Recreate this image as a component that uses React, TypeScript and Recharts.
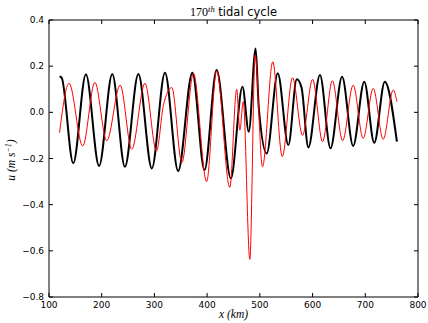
import React from "react";
import { LineChart, Line, XAxis, YAxis, ReferenceArea } from "recharts";

// black curve (thick)
const blackX = [120, 124, 146, 170, 195, 220, 244, 269.5, 295, 320, 345, 372, 395, 418, 445, 467, 479, 492, 498, 513, 534, 554, 570, 579, 592, 614, 634, 656, 677, 698, 717, 737, 760];
const blackU = [0.155, 0.15, -0.221, 0.165, -0.233, 0.166, -0.236, 0.166, -0.243, 0.172, -0.254, 0.172, -0.25, 0.183, -0.286, 0.111, -0.084, 0.277, 0.02, -0.178, 0.169, -0.142, 0.143, 0.108, -0.152, 0.162, -0.156, 0.154, -0.146, 0.133, -0.132, 0.133, -0.127];

// red curve (thin)
const redX = [120, 138, 164, 187, 209.5, 235, 257, 282, 304, 317, 333, 352, 374, 399, 418, 443, 456, 462, 468.5, 481, 491, 505, 524.5, 542.5, 562, 581, 600, 619, 637.5, 657, 677, 696, 715, 734, 753, 760];
const redU = [-0.088, 0.126, -0.146, 0.13, -0.123, 0.118, -0.16, 0.126, -0.168, 0.03, 0.107, -0.218, 0.169, -0.3, 0.18, -0.325, 0.1, -0.077, 0.046, -0.637, 0.248, -0.236, 0.219, -0.192, 0.15, -0.1, 0.143, -0.127, 0.137, -0.123, 0.118, -0.113, 0.104, -0.117, 0.097, 0.046];

const xTicks = [100, 200, 300, 400, 500, 600, 700, 800];
const yTicks = [-0.8, -0.6, -0.4, -0.2, 0.0, 0.2, 0.4];

const blackData = blackX.map((x, i) => ({ x, u: blackU[i] }));
const redData = redX.map((x, i) => ({ x, u: redU[i] }));

const W = 428;
const H = 323;
const LEFT = 49;
const RIGHT = 418;
const TOP = 20;
const BOTTOM = 297;
const TICK = 4;

const fmtY = (v: number) => v.toFixed(1).replace("-", "\u2212");

function XTick(props: any) {
  const { x, payload } = props;
  return (
    <g>
      <line x1={x} x2={x} y1={BOTTOM} y2={BOTTOM - TICK} stroke="#000" />
      <line x1={x} x2={x} y1={TOP} y2={TOP + TICK} stroke="#000" />
      <text x={x} y={308} textAnchor="middle" fontSize={9} fontFamily="DejaVu Sans" fill="#000">
        {payload.value}
      </text>
    </g>
  );
}

function YTick(props: any) {
  const { y, payload } = props;
  return (
    <g>
      <line x1={LEFT} x2={LEFT + TICK} y1={y} y2={y} stroke="#000" />
      <line x1={RIGHT} x2={RIGHT - TICK} y1={y} y2={y} stroke="#000" />
      <text x={44} y={y} dy="0.35em" textAnchor="end" fontSize={9} fontFamily="DejaVu Sans" fill="#000">
        {fmtY(payload.value)}
      </text>
    </g>
  );
}

export default function App() {
  return (
    <div style={{ position: "absolute", left: 0, top: 0, width: W, height: H, background: "#fff" }}>
      <LineChart width={W} height={H} margin={{ top: TOP, right: W - RIGHT, bottom: 0, left: 0 }}>
        <XAxis
          type="number"
          dataKey="x"
          domain={[100, 800]}
          ticks={xTicks}
          height={H - BOTTOM}
          axisLine={false}
          tickLine={false}
          tick={<XTick />}
          interval={0}
        />
        <YAxis
          type="number"
          dataKey="u"
          domain={[-0.8, 0.4]}
          ticks={yTicks}
          width={LEFT}
          axisLine={false}
          tickLine={false}
          tick={<YTick />}
          interval={0}
        />
        <Line
          data={blackData}
          dataKey="u"
          type="monotone"
          stroke="#000"
          strokeWidth={2}
          dot={false}
          isAnimationActive={false}
        />
        <Line
          data={redData}
          dataKey="u"
          type="monotone"
          stroke="#ff0000"
          strokeWidth={1}
          dot={false}
          isAnimationActive={false}
        />
        <ReferenceArea
          x1={100}
          x2={800}
          y1={-0.8}
          y2={0.4}
          fill="none"
          stroke="#000"
          strokeWidth={1}
          ifOverflow="visible"
        />
      </LineChart>
      <svg width={W} height={H} style={{ position: "absolute", left: 0, top: 0, pointerEvents: "none" }}>
        <text x={(LEFT + RIGHT) / 2} y={16} textAnchor="middle" fill="#000">
          <tspan fontFamily="Liberation Serif" fontSize={12}>170</tspan>
          <tspan fontFamily="Liberation Serif" fontStyle="italic" fontSize={8.5} dy={-4}>th</tspan>
          <tspan fontFamily="DejaVu Sans" fontSize={11.5} dy={4}> tidal cycle</tspan>
        </text>
        <text x={(LEFT + RIGHT) / 2} y={318} textAnchor="middle" fill="#000" fontFamily="Liberation Serif" fontStyle="italic" fontSize={11.5}>
          x (km)
        </text>
        <text
          x={15}
          y={160}
          textAnchor="middle"
          transform="rotate(-90 15 160)"
          fill="#000"
          fontFamily="Liberation Serif"
          fontStyle="italic"
          fontSize={11.5}
        >
          <tspan>u (m s</tspan>
          <tspan fontSize={8} dy={-4}>{"\u22121"}</tspan>
          <tspan dy={4}>)</tspan>
        </text>
      </svg>
    </div>
  );
}
